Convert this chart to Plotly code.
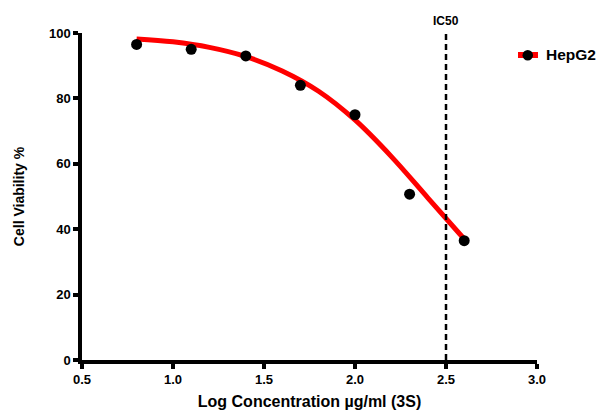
import plotly.graph_objects as go

# Measured data (HepG2)
log_conc = [0.8, 1.1, 1.4, 1.7, 2.0, 2.3, 2.6]
viability = [96.5, 95.0, 93.0, 84.0, 75.0, 50.7, 36.5]

# Fitted curve
fit_x = [0.8, 1.0, 1.2, 1.4, 1.6, 1.8, 2.0, 2.2, 2.4, 2.6]
fit_y = [98.2, 97.3, 95.6, 92.8, 88.4, 82.2, 73.4, 62.2, 49.6, 37.0]

ic50_x = 2.5
x_ticks = [0.5, 1.0, 1.5, 2.0, 2.5, 3.0]
y_ticks = [0, 20, 40, 60, 80, 100]
series_name = "HepG2"

FONT = "Liberation Sans, Arial, sans-serif"

fig = go.Figure()
fig.add_trace(go.Scatter(x=fit_x, y=fit_y, mode="lines", line=dict(color="#ff0000", width=5, shape="spline"),
                         showlegend=False, hoverinfo="skip"))
fig.add_trace(go.Scatter(x=log_conc, y=viability, mode="markers", name=series_name,
                         marker=dict(color="black", size=11), showlegend=False))

fig.add_trace(go.Scatter(x=[ic50_x, ic50_x], y=[0, 100], mode="lines",
                         line=dict(color="black", width=2.5, dash="6px,4px"), showlegend=False))
fig.add_annotation(x=ic50_x, y=1, yref="paper", text="<b>IC50</b>", showarrow=False,
                   yanchor="bottom", yshift=3, font=dict(size=12, color="black", family=FONT))

# manual legend (paper coordinates)
L, T, PW, PH = 82, 33, 455, 327
def px(x):
    return (x - L) / PW
def py(y):
    return (T + PH - y) / PH
fig.add_shape(type="line", xref="paper", yref="paper", x0=px(518), x1=px(538), y0=py(55), y1=py(55),
              line=dict(color="#ff0000", width=6))
fig.add_shape(type="circle", xref="paper", yref="paper", x0=px(522.5), x1=px(533), y0=py(50), y1=py(60.5),
              fillcolor="black", line=dict(color="black", width=0))
fig.add_annotation(x=px(544), y=py(55), xref="paper", yref="paper", text=f"<b>{series_name}</b>",
                   showarrow=False, xanchor="left", yanchor="middle",
                   font=dict(size=15.5, color="black", family=FONT))

fig.update_layout(
    width=600, height=410,
    margin=dict(l=L, r=600 - L - PW, t=T, b=410 - T - PH, autoexpand=False),
    paper_bgcolor="white", plot_bgcolor="white",
    font=dict(family=FONT, color="black"),
    showlegend=False,
    xaxis=dict(range=[0.5, 3.0], tickvals=x_ticks, ticktext=[f"<b>{v:.1f}</b>" for v in x_ticks],
               showgrid=False, zeroline=False, showline=True, linecolor="black", linewidth=3.5,
               ticks="outside", ticklen=5, tickwidth=3.5, tickcolor="black",
               tickfont=dict(size=13, family=FONT),
               title=dict(text="<b>Log Concentration \u00b5g/ml (3S)</b>", font=dict(size=16, family=FONT), standoff=12)),
    yaxis=dict(range=[0, 100], tickvals=y_ticks, ticktext=[f"<b>{v}</b>" for v in y_ticks],
               showgrid=False, zeroline=False, showline=True, linecolor="black", linewidth=3.5,
               ticks="outside", ticklen=5, tickwidth=3.5, tickcolor="black",
               tickfont=dict(size=13, family=FONT),
               title=dict(text="<b>Cell Viability %</b>", font=dict(size=14, family=FONT), standoff=22)),
)

fig.write_html("out.html")
